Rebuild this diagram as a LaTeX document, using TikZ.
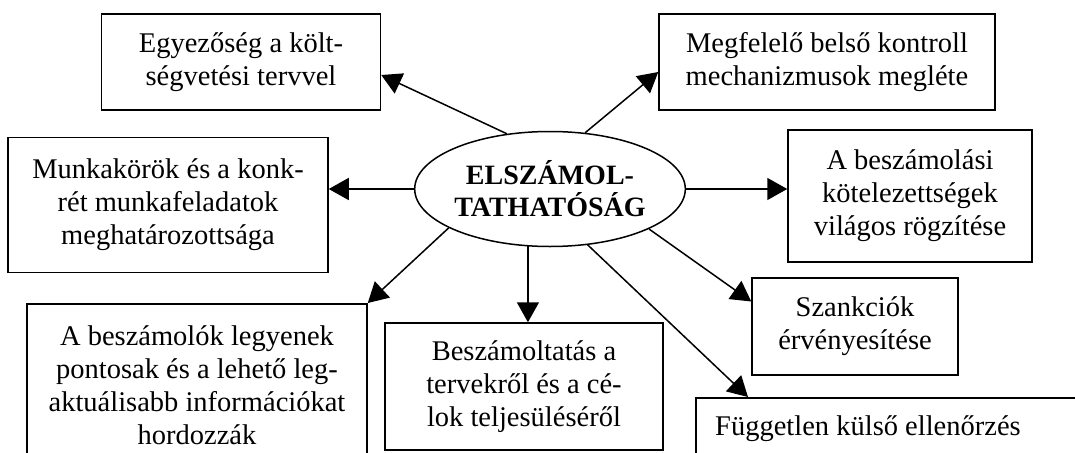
\documentclass[tikz,border=0pt]{standalone}
\usepackage{fontspec}
\setmainfont{Liberation Serif}
\usetikzlibrary{arrows.meta,shapes.geometric}
\begin{document}
\begin{tikzpicture}[x=1pt,y=-1pt,
  box/.style={draw, line width=1.5pt, font=\fontsize{28.5}{33}\selectfont, align=center, inner sep=0pt},
  txt/.style={font=\fontsize{28.5}{33}\selectfont, inner sep=0pt},
  arr/.style={-{Triangle[length=20pt,width=22pt]}, line width=1.5pt},
  hub/.style={draw, ellipse, line width=1.5pt, inner sep=0pt, align=center,
    font=\fontsize{28}{32}\selectfont\bfseries}]
\clip (0,0) rectangle (1075,452);
\node[box, minimum width=279pt, minimum height=96pt] (b1) at (241,62) {Egyezőség a költ-\\ségvetési tervvel};
\node[box, minimum width=336pt, minimum height=96pt] (b2) at (827,62) {Megfelelő belső kontroll\\mechanizmusok megléte};
\node[box, minimum width=320pt, minimum height=135pt] (b3) at (168,205) {Munkakörök és a konk-\\rét munkafeladatok\\meghatározottsága};
\node[box, minimum width=244pt, minimum height=132pt] (b4) at (910,196) {A beszámolási\\kötelezettségek\\világos rögzítése};
\node[box, minimum width=206pt, minimum height=97pt] (b5) at (855,326.5) {Szankciók\\érvényesítése};
\node[box, anchor=north, minimum width=340pt, minimum height=163pt] (b6) at (197,303) {A beszámolók legyenek\\pontosak és a lehető leg-\\aktuálisabb információkat\\hordozzák};
\node[box, minimum width=278pt, minimum height=127pt] (b7) at (524,386.5) {Beszámoltatás a\\tervekről és a cé-\\lok teljesüléséről};
\node[box, anchor=north west, minimum width=400pt, minimum height=90pt] (b8) at (695,397) {};
\node[txt, anchor=base west] (t8) at ([xshift=20pt,yshift=-38pt]b8.north west) {Független külső ellenőrzés};
\node[hub, minimum width=270pt, minimum height=115pt] (e) at (550,189) {ELSZÁMOL-\\TATHATÓSÁG};
\draw[arr] (e.128) -- ([yshift=-13pt]b1.east);
\draw[arr] (e.58) -- ([yshift=-10pt]b2.west);
\draw[arr] (e.west) -- (e.west -| b3.east);
\draw[arr] (e.east) -- (e.east -| b4.west);
\draw[arr] (e.201) -- (b6.north east);
\draw[arr] (e.249) -- (e.249 |- b7.north);
\draw[arr] (e.338) -- ([yshift=25pt]b5.west);
\draw[arr] (e.304) -- ([xshift=53pt]b8.north west);
\end{tikzpicture}
\end{document}
